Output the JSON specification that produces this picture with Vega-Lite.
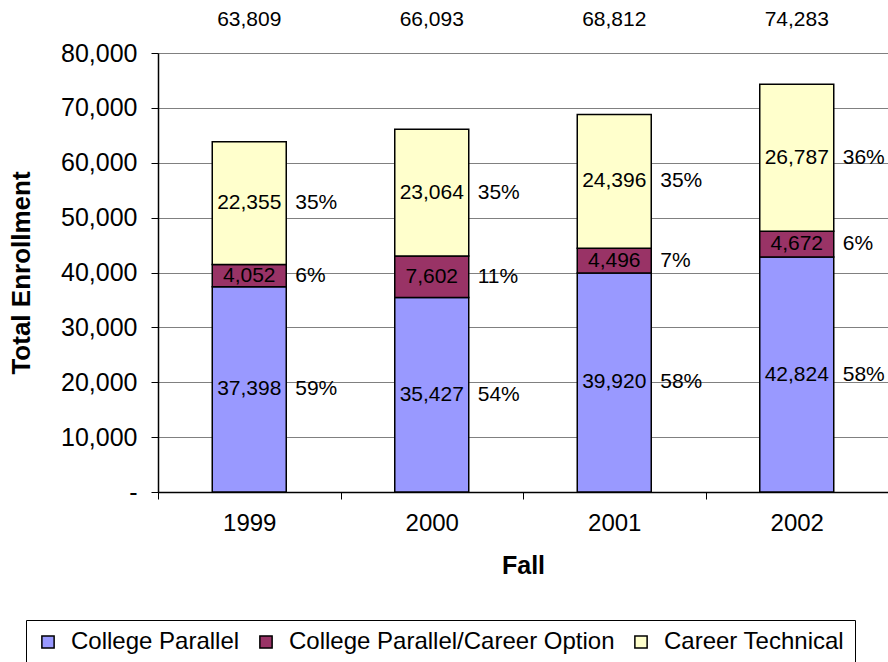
{
  "$schema": "https://vega.github.io/schema/vega-lite/v6.json",
  "width": 730,
  "height": 439,
  "autosize": "none",
  "padding": {"left": 158, "top": 53, "right": 0, "bottom": 170},
  "background": "white",
  "data": {
    "values": [
      {"year": "1999", "program": "College Parallel", "enrollment": 37398, "pct": 0.59, "total": 63809},
      {"year": "1999", "program": "College Parallel/Career Option", "enrollment": 4052, "pct": 0.06, "total": 63809},
      {"year": "1999", "program": "Career Technical", "enrollment": 22355, "pct": 0.35, "total": 63809},
      {"year": "2000", "program": "College Parallel", "enrollment": 35427, "pct": 0.54, "total": 66093},
      {"year": "2000", "program": "College Parallel/Career Option", "enrollment": 7602, "pct": 0.11, "total": 66093},
      {"year": "2000", "program": "Career Technical", "enrollment": 23064, "pct": 0.35, "total": 66093},
      {"year": "2001", "program": "College Parallel", "enrollment": 39920, "pct": 0.58, "total": 68812},
      {"year": "2001", "program": "College Parallel/Career Option", "enrollment": 4496, "pct": 0.07, "total": 68812},
      {"year": "2001", "program": "Career Technical", "enrollment": 24396, "pct": 0.35, "total": 68812},
      {"year": "2002", "program": "College Parallel", "enrollment": 42824, "pct": 0.58, "total": 74283},
      {"year": "2002", "program": "College Parallel/Career Option", "enrollment": 4672, "pct": 0.06, "total": 74283},
      {"year": "2002", "program": "Career Technical", "enrollment": 26787, "pct": 0.36, "total": 74283}
    ]
  },
  "transform": [
    {"calculate": "indexof(['College Parallel', 'College Parallel/Career Option', 'Career Technical'], datum.program)", "as": "ord"}
  ],
  "encoding": {
    "x": {
      "field": "year",
      "type": "nominal",
      "scale": {"paddingInner": 0, "paddingOuter": 0},
      "axis": {
        "title": "Fall",
        "titleFontSize": 25,
        "titleFontWeight": "bold",
        "titleColor": "black",
        "titleBaseline": "middle",
        "titleY": 73,
        "labelAngle": 0,
        "labelFontSize": 24,
        "labelColor": "black",
        "labelPadding": 12,
        "tickBand": "extent",
        "tickSize": 7,
        "tickColor": "black",
        "domainColor": "black",
        "domainWidth": 1.5,
        "grid": false
      }
    }
  },
  "layer": [
    {
      "mark": {"type": "bar", "size": 74, "stroke": "black", "strokeWidth": 1.5},
      "encoding": {
        "y": {
          "field": "enrollment",
          "type": "quantitative",
          "stack": "zero",
          "scale": {"domain": [0, 80000], "nice": false},
          "axis": {
            "title": "Total Enrollment",
            "titleFontSize": 26,
            "titleFontWeight": "bold",
            "titleColor": "black",
            "titleX": -137,
            "titleBaseline": "middle",
            "values": [0, 10000, 20000, 30000, 40000, 50000, 60000, 70000, 80000],
            "labelExpr": "datum.value == 0 ? '-' : format(datum.value, ',')",
            "labelFontSize": 25,
            "labelColor": "black",
            "labelPadding": 14,
            "tickSize": 7,
            "tickColor": "black",
            "domainColor": "black",
            "domainWidth": 1.5,
            "gridColor": "#808080",
            "gridWidth": 1
          }
        },
        "color": {
          "field": "program",
          "type": "nominal",
          "scale": {
            "domain": ["College Parallel", "College Parallel/Career Option", "Career Technical"],
            "range": ["#9999FF", "#993366", "#FFFFCC"]
          },
          "legend": {
            "title": null,
            "orient": "none",
            "direction": "horizontal",
            "legendX": -132,
            "legendY": 567,
            "strokeColor": "black",
            "fillColor": "white",
            "padding": 10,
            "labelFontSize": 24,
            "labelColor": "black",
            "labelLimit": 0,
            "symbolType": "square",
            "symbolSize": 150,
            "symbolOpacity": 1,
            "symbolStrokeColor": "black",
            "symbolStrokeWidth": 1.5,
            "labelOffset": 11,
            "columnPadding": 14
          }
        },
        "stroke": {"value": "black"},
        "order": {"field": "ord", "type": "quantitative"}
      }
    },
    {
      "mark": {"type": "text", "fontSize": 21, "color": "black", "baseline": "middle"},
      "encoding": {
        "y": {"field": "enrollment", "type": "quantitative", "stack": "zero", "bandPosition": 0.5},
        "text": {"field": "enrollment", "type": "quantitative", "format": ","},
        "order": {"field": "ord", "type": "quantitative"}
      }
    },
    {
      "mark": {"type": "text", "fontSize": 21, "color": "black", "baseline": "middle", "align": "left", "dx": 46},
      "encoding": {
        "y": {"field": "enrollment", "type": "quantitative", "stack": "zero", "bandPosition": 0.5},
        "text": {"field": "pct", "type": "quantitative", "format": ".0%"},
        "order": {"field": "ord", "type": "quantitative"}
      }
    },
    {
      "transform": [{"filter": "datum.ord == 0"}],
      "mark": {"type": "text", "fontSize": 21, "color": "black", "baseline": "middle", "dy": -33},
      "encoding": {
        "y": {"datum": 80000},
        "text": {"field": "total", "type": "quantitative", "format": ","}
      }
    }
  ],
  "config": {
    "font": "Liberation Sans",
    "view": {"stroke": null}
  }
}
